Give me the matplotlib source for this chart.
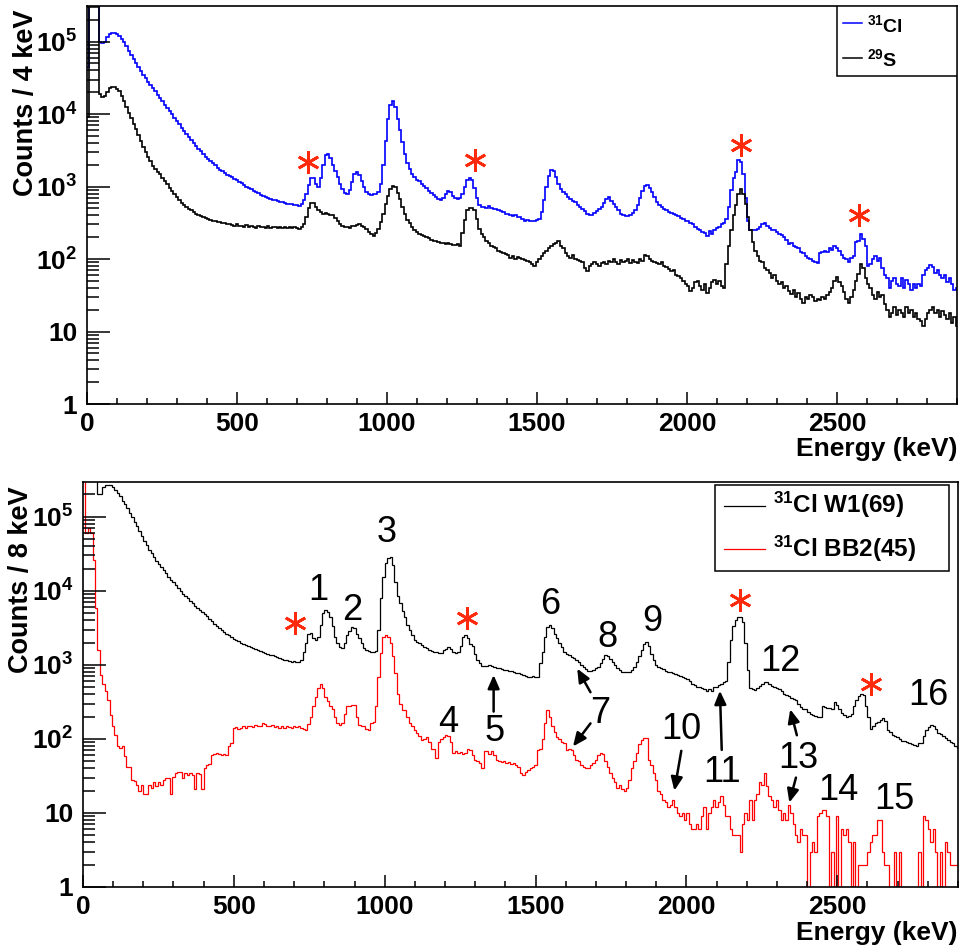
import numpy as np
import matplotlib.pyplot as plt
from matplotlib.patches import Rectangle
from matplotlib.ticker import MultipleLocator, FixedLocator, FixedFormatter, LogLocator, NullFormatter

plt.rcParams['font.family'] = ['Liberation Sans', 'DejaVu Sans']
plt.rcParams['font.weight'] = 'bold'
plt.rcParams['axes.labelweight'] = 'bold'
plt.rcParams['mathtext.fontset'] = 'custom'
plt.rcParams['mathtext.rm'] = 'Liberation Sans:bold'
plt.rcParams['mathtext.it'] = 'Liberation Sans:bold'
plt.rcParams['mathtext.bf'] = 'Liberation Sans:bold'

BIN = 8  # keV per drawn bin

# top panel, counts / 4 keV (1e6 = off scale)
cl31_top = [
    45000, 1e6, 1e6, 1e6, 1e6, 100000, 95000, 100000, 115000, 128000,
    132000, 131000, 127000, 121000, 110000, 98000, 86000, 75000, 65000, 57000,
    50000, 44000, 39000, 35000, 31000, 28000, 25500, 23000, 20500, 18500,
    16800, 15000, 13500, 12200, 11000, 9900, 8900, 8000, 7200, 6500,
    5900, 5300, 4800, 4350, 3950, 3600, 3300, 3050, 2800, 2600,
    2420, 2250, 2100, 1960, 1830, 1720, 1620, 1530, 1450, 1380,
    1340, 1290, 1230, 1170, 1110, 1060, 1000, 950, 920, 880,
    840, 810, 770, 750, 720, 700, 680, 660, 650, 640,
    620, 610, 600, 580, 570, 575, 560, 550, 545, 570,
    650, 800, 1050, 1300, 1320, 1100, 980, 1300, 2000, 2700,
    2800, 2500, 2000, 1650, 1350, 1100, 920, 820, 800, 900,
    1150, 1500, 1600, 1450, 1200, 980, 850, 780, 770, 780,
    790, 850, 1100, 2000, 4200, 8500, 13500, 15000, 12500, 8500,
    6000, 4100, 2800, 2100, 1750, 1500, 1350, 1250, 1180, 1100,
    1030, 950, 880, 810, 760, 720, 680, 660, 700, 800,
    870, 830, 740, 690, 680, 700, 800, 1000, 1250, 1330,
    1250, 950, 700, 560, 525, 520, 510, 540, 510, 495,
    490, 470, 455, 440, 425, 420, 405, 395, 400, 385,
    375, 360, 340, 345, 335, 340, 330, 345, 360, 450,
    650, 980, 1400, 1700, 1650, 1350, 1100, 930, 840, 780,
    720, 670, 640, 610, 560, 520, 490, 460, 420, 400,
    410, 430, 460, 490, 520, 600, 680, 720, 640, 570,
    520, 470, 420, 400, 390, 395, 400, 430, 480, 550,
    700, 880, 1020, 1040, 960, 850, 720, 620, 560, 520,
    490, 470, 450, 430, 420, 400, 390, 370, 360, 340,
    330, 310, 300, 275, 260, 250, 240, 230, 210, 245,
    225, 250, 270, 280, 300, 310, 360, 520, 900, 1300,
    1600, 2300, 2200, 1500, 700, 330, 255, 250, 255, 260,
    280, 300, 310, 290, 270, 255, 250, 235, 220, 215,
    200, 185, 160, 165, 150, 148, 140, 125, 120, 110,
    105, 100, 95, 90, 88, 120, 125, 130, 125, 140,
    135, 150, 140, 130, 115, 105, 100, 90, 105, 110,
    170, 180, 220, 190, 150, 80, 85, 100, 110, 95,
    105, 75, 60, 55, 40, 50, 55, 45, 42, 55,
    40, 52, 45, 38, 45, 40, 45, 42, 60, 70,
    75, 82, 78, 65, 70, 60, 55, 60, 48, 55,
    45, 38, 40,
]
s29_top = [
    9000, 1e6, 1e6, 1e6, 1e6, 19000, 17000, 17500, 20000, 23000,
    24000, 23500, 22500, 20500, 18000, 15000, 12500, 10500, 8800, 7300,
    6200, 5100, 4200, 3500, 3000, 2600, 2250, 1950, 1750, 1600,
    1480, 1330, 1200, 1080, 970, 880, 800, 720, 650, 600,
    560, 520, 490, 470, 440, 420, 410, 390, 380, 370,
    360, 350, 330, 340, 320, 325, 310, 315, 300, 305,
    295, 290, 300, 285, 290, 280, 295, 275, 285, 280,
    270, 290, 275, 280, 265, 285, 270, 280, 275, 270,
    280, 265, 275, 270, 280, 265, 275, 270, 260, 275,
    300, 380, 500, 600, 590, 520, 470, 440, 420, 430,
    420, 400, 410, 370, 330, 300, 290, 275, 280, 270,
    285, 290, 295, 300, 290, 280, 260, 240, 225, 210,
    230, 260, 320, 420, 580, 750, 920, 1020, 980, 820,
    680, 520, 420, 350, 310, 280, 255, 240, 225, 215,
    205, 200, 195, 185, 180, 175, 170, 168, 165, 162,
    165, 160, 158, 155, 160, 150, 230, 350, 480, 500,
    500, 480, 360, 260, 220, 200, 175, 165, 150, 145,
    140, 130, 125, 120, 118, 115, 105, 110, 100, 108,
    105, 100, 98, 95, 90, 85, 80, 90, 100, 110,
    120, 130, 140, 150, 160, 165, 175, 150, 140, 120,
    110, 105, 115, 100, 98, 95, 90, 75, 68, 80,
    85, 90, 85, 80, 88, 92, 85, 95, 90, 100,
    92, 85, 98, 90, 95, 100, 88, 96, 92, 88,
    100, 95, 115, 110, 100, 95, 92, 88, 85, 90,
    80, 78, 72, 68, 70, 60, 58, 55, 50, 45,
    42, 36, 40, 48, 50, 42, 38, 45, 34, 40,
    48, 52, 45, 50, 42, 40, 85, 150, 250, 400,
    550, 800, 930, 800, 580, 380, 250, 170, 130, 110,
    95, 90, 75, 70, 65, 55, 60, 50, 45, 48,
    40, 42, 36, 33, 38, 30, 34, 28, 25, 30,
    28, 32, 30, 26, 28, 27, 30, 28, 32, 35,
    40, 50, 56, 48, 42, 35, 28, 25, 30, 38,
    50, 62, 85, 75, 55, 45, 40, 32, 28, 35,
    30, 32, 24, 20, 16, 18, 22, 17, 20, 18,
    16, 22, 18, 20, 16, 18, 15, 14, 12, 15,
    18, 20, 22, 18, 20, 16, 19, 17, 15, 18,
    13, 16, 12,
]

# bottom panel, counts / 8 keV
w1 = [
    1e6, 1e6, 1e6, 1e6, 1e6, 1e6, 200000, 200000, 250000, 265000,
    272000, 265000, 250000, 232000, 210000, 188000, 165000, 150000, 132000, 112000,
    98000, 86000, 74000, 64000, 55000, 47000, 41000, 36000, 32000, 28500,
    25500, 23000, 21000, 19000, 17200, 15600, 14200, 13000, 11900, 10900,
    10000, 9200, 8500, 7900, 7300, 6800, 6300, 5900, 5500, 5150,
    4800, 4500, 4200, 3900, 3600, 3350, 3150, 2950, 2800, 2650,
    2500, 2380, 2270, 2170, 2080, 2000, 1930, 1860, 1800, 1750,
    1700, 1650, 1600, 1550, 1500, 1450, 1420, 1380, 1340, 1300,
    1260, 1230, 1200, 1170, 1150, 1130, 1100, 1120, 1090, 1110,
    1150, 1500, 2000, 2600, 2700, 2300, 2150, 2400, 3500, 5000,
    5500, 5200, 4400, 3300, 2400, 1950, 1750, 1700, 2000, 2500,
    2900, 3200, 3100, 2600, 2300, 2000, 1700, 1600, 1550, 1500,
    1500, 1520, 3000, 8000, 15500, 23500, 28000, 29000, 22000, 13000,
    8500, 6800, 5300, 4400, 3500, 2950, 2500, 2200, 2050, 1950,
    1850, 1750, 1700, 1600, 1550, 1510, 1480, 1450, 1450, 1600,
    1650, 1740, 1650, 1500, 1450, 1500, 1800, 2400, 2570, 2300,
    1900, 1780, 1400, 1170, 1050, 980, 955, 970, 990, 980,
    950, 920, 900, 880, 860, 850, 830, 820, 800, 780,
    770, 750, 720, 700, 690, 690, 700, 690, 690, 1050,
    1500, 2400, 3200, 3470, 3100, 2600, 2300, 2000, 1750, 1500,
    1420, 1350, 1280, 1230, 1150, 1080, 1000, 950, 880, 820,
    830, 860, 900, 950, 1050, 1200, 1380, 1300, 1200, 1100,
    1000, 900, 850, 810, 800, 810, 800, 850, 950, 1100,
    1300, 1600, 1900, 2040, 1800, 1400, 1150, 1000, 950, 900,
    870, 830, 810, 790, 770, 750, 720, 700, 690, 670,
    650, 600, 550, 530, 510, 500, 480, 470, 440, 470,
    450, 500, 510, 530, 560, 580, 600, 1100, 2200, 3300,
    4000, 4470, 4470, 3800, 1950, 850, 480, 470, 460, 480,
    520, 560, 590, 580, 550, 520, 510, 490, 470, 450,
    400, 390, 380, 360, 350, 340, 300, 270, 257, 250,
    230, 215, 209, 205, 200, 200, 275, 270, 265, 260,
    257, 316, 290, 250, 224, 210, 200, 205, 220, 280,
    340, 380, 407, 390, 275, 200, 138, 150, 162, 170,
    180, 190, 175, 132, 125, 112, 110, 107, 100, 95,
    93, 91, 88, 85, 83, 80, 87, 87, 110, 132,
    145, 155, 150, 135, 120, 115, 110, 102, 98, 90,
    88, 79, 75,
]
bb2 = [
    1e6, 60000, 70000, 60000, 26000, 5900, 1600, 730, 560, 440,
    340, 213, 148, 114, 79, 75, 79, 58, 42, 42,
    28, 27, 24, 20, 24, 18, 18, 24, 22, 26,
    23, 26, 24, 28, 30, 30, 18, 31, 35, 36,
    36, 30, 35, 33, 35, 33, 21, 35, 34, 21,
    40, 45, 46, 60, 62, 64, 62, 60, 62, 60,
    80, 88, 140, 145, 135, 140, 150, 140, 148, 150,
    145, 155, 148, 150, 162, 158, 150, 148, 155, 145,
    148, 140, 150, 142, 148, 145, 140, 150, 145, 148,
    140, 135, 132, 160, 200, 280, 370, 480, 560, 480,
    370, 320, 275, 250, 200, 162, 155, 162, 220, 275,
    280, 290, 285, 200, 155, 150, 148, 135, 130, 162,
    170, 275, 690, 1450, 2400, 2560, 2400, 1950, 1300, 780,
    400, 300, 245, 245, 200, 162, 150, 130, 120, 110,
    98, 100, 107, 90, 74, 72, 55, 91, 100, 105,
    112, 108, 91, 65, 68, 65, 66, 62, 65, 72,
    71, 60, 52, 50, 48, 40, 68, 68, 62, 68,
    60, 52, 50, 49, 50, 48, 49, 46, 47, 45,
    42, 35, 33, 36, 38, 40, 42, 45, 71, 72,
    100, 165, 245, 200, 150, 125, 107, 100, 91, 88,
    71, 72, 70, 60, 52, 50, 45, 42, 40, 40,
    44, 47, 52, 60, 65, 62, 50, 42, 35, 30,
    26, 22, 24, 21, 20, 22, 28, 40, 50, 65,
    85, 98, 102, 102, 52, 45, 35, 28, 20, 18,
    15, 14, 12, 13, 15, 12, 10, 9, 10, 8,
    10, 7, 6, 6, 7, 6, 9, 12, 6, 10,
    12, 15, 12, 14, 17, 13, 9, 9, 6, 5,
    5, 5, 3, 7, 10, 8, 15, 8, 15, 18,
    26, 24, 35, 23, 17, 15, 12, 15, 11, 8,
    10, 8, 13, 10, 7, 5, 4, 6, 5, 5,
    0, 3, 4, 3, 9, 10, 11, 11, 9, 0,
    3, 0, 9, 0, 6, 5, 6, 4, 0, 4,
    0, 2, 2, 2, 2, 3, 4, 5, 5, 8,
    8, 3, 2, 2, 0, 0, 3, 0, 3, 0,
    0, 0, 0, 0, 0, 0, 3, 0, 9, 8,
    6, 4, 6, 3, 0, 3, 0, 4, 3, 2,
    2, 2, 2,
]

# annotations
star_top = [(735, 2190), (1293, 2290), (2180, 3690), (2574, 400)]
star_bot = [(702, 3630), (1272, 4270), (2179, 7590), (2611, 560)]
peak_names = ['1', '2', '3', '4', '5', '6', '7', '8', '9', '10', '11', '12', '13', '14', '15', '16']
peak_pos = [(779, 10200), (892, 5400), (1005, 60700), (1211, 166), (1363, 126), (1550, 6460),
            (1714, 223), (1739, 2340), (1888, 3800), (1982, 132), (2117, 35), (2310, 1120),
            (2372, 54), (2504, 20), (2689, 15), (2802, 390)]
arrows = [((1361, 234), (1361, 730)), ((1682, 427), (1638, 890)), ((1682, 162), (1624, 79)),
          ((1983, 69), (1960, 20)), ((2117, 71), (2111, 447)), ((2366, 112), (2344, 251)),
          ((2363, 30), (2341, 13.8))]

dec = [1, 10, 100, 1000, 1e4, 1e5]
dec_labels = ['1', '10', '$10^{2}$', '$10^{3}$', '$10^{4}$', '$10^{5}$']
STAR = '#ff2a0c'


def style(ax, ymax, ylabel, lab_x):
    ax.set_yscale('log')
    ax.set_xlim(0, 2900)
    ax.set_ylim(1, ymax)
    ax.xaxis.set_major_locator(MultipleLocator(500))
    ax.xaxis.set_minor_locator(MultipleLocator(100))
    ax.yaxis.set_major_locator(FixedLocator(dec))
    ax.yaxis.set_major_formatter(FixedFormatter(dec_labels))
    ax.yaxis.set_minor_locator(LogLocator(base=10, subs=np.arange(2, 10), numticks=20))
    ax.yaxis.set_minor_formatter(NullFormatter())
    ax.tick_params(which='both', direction='in', top=False, right=False, width=1.1, labelsize=19)
    ax.tick_params(axis='x', which='major', length=9, pad=6)
    ax.tick_params(axis='x', which='minor', length=4.5)
    ax.tick_params(axis='y', which='major', length=16.5, pad=7)
    ax.tick_params(axis='y', which='minor', length=8.5)
    for s in ax.spines.values():
        s.set_linewidth(1.2)
    ax.set_xlabel('Energy (keV)', fontsize=19, fontweight='bold', loc='right')
    ax.xaxis.set_label_coords(1.0, -0.083)
    ax.set_ylabel(ylabel, fontsize=19.5, fontweight='bold', loc='top')
    ax.yaxis.set_label_coords(lab_x, 0.99)


def legend_box(ax, box, entries, line_x, text_x, fs, lw):
    x0, y0, x1, y1 = box
    ax.add_patch(Rectangle((x0, y0), x1 - x0, y1 - y0, transform=ax.transAxes,
                           fc='white', ec='black', lw=1.1, zorder=5))
    for color, label, yl, yb in entries:
        ax.plot(line_x, [yl, yl], transform=ax.transAxes, color=color, lw=lw, zorder=6)
        ax.text(text_x, yb, label, transform=ax.transAxes, fontsize=fs,
                ha='left', va='baseline', zorder=6)


fig = plt.figure(figsize=(9.66, 9.52), dpi=100)
ax1 = fig.add_axes([0.0901, 0.5756, 0.9006, 0.4181])
ax2 = fig.add_axes([0.0859, 0.0683, 0.9058, 0.4254])

# top panel
e1 = np.arange(len(cl31_top) + 1) * BIN
ax1.stairs(cl31_top, e1, baseline=None, color='#0000ff', lw=1.2)
e1b = np.arange(len(s29_top) + 1) * BIN
ax1.stairs(s29_top, e1b, baseline=None, color='black', lw=1.2)
sx, sy = zip(*star_top)
ax1.plot(sx, sy, ls='none', marker=(6, 2, 0), ms=16, mew=2.0, color=STAR)
style(ax1, 3.1e5, 'Counts / 4 keV', -0.055)
legend_box(ax1, (0.862, 0.824, 1.0, 1.0),
           [('#0000ff', '$^{31}$Cl', 0.957, 0.935), ('black', '$^{29}$S', 0.869, 0.849)],
           [0.869, 0.891], 0.896, 14, 1.1)

# bottom panel
bb2_arr = np.array(bb2, dtype=float)
e2 = np.arange(len(w1) + 1) * BIN
ax2.stairs(w1, e2, baseline=None, color='black', lw=0.9)
e2b = np.arange(len(bb2_arr) + 1) * BIN
ax2.stairs(np.where(bb2_arr > 0, bb2_arr, 0.3), e2b, baseline=None, color='#ff0000', lw=0.9)
sx, sy = zip(*star_bot)
ax2.plot(sx, sy, ls='none', marker=(6, 2, 0), ms=16, mew=2.0, color=STAR)
for name, (px, py) in zip(peak_names, peak_pos):
    ax2.text(px, py, name, fontsize=26, fontweight='normal', ha='center', va='center')
for tail, head in arrows:
    ax2.annotate('', xy=head, xytext=tail,
                 arrowprops=dict(arrowstyle='-|>,head_length=0.8,head_width=0.35',
                                 lw=1.8, color='black', shrinkA=0, shrinkB=0))
style(ax2, 2.95e5, 'Counts / 8 keV', -0.056)
legend_box(ax2, (0.722, 0.780, 0.990, 0.993),
           [('black', '$^{31}$Cl W1(69)', 0.9415, 0.9227), ('#ff0000', '$^{31}$Cl BB2(45)', 0.834, 0.8156)],
           [0.733, 0.779], 0.789, 17.5, 0.9)

fig.savefig('out.png', dpi=100)
